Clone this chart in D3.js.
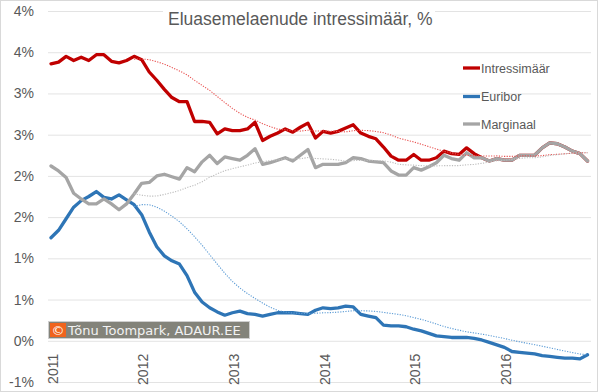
<!DOCTYPE html>
<html>
<head>
<meta charset="utf-8">
<script src="https://cdn.jsdelivr.net/npm/d3@7"></script>
<style>
  html, body { margin: 0; padding: 0; background: #fff; }
  svg { display: block; font-family: "Liberation Sans", Arial, sans-serif; }
</style>
</head>
<body>
<div id="chart"></div>
<script>
// monthly data, Jan 2011 .. Dec 2016
const years = ['2011', '2012', '2013', '2014', '2015', '2016'];

const intressimaar = [
  3.36, 3.38, 3.45, 3.40, 3.44, 3.40, 3.47, 3.47, 3.39, 3.37, 3.40, 3.45,
  3.41, 3.26, 3.16, 3.05, 2.95, 2.90, 2.90, 2.66, 2.66, 2.65, 2.51, 2.57,
  2.55, 2.55, 2.57, 2.65, 2.43, 2.48, 2.52, 2.57, 2.53, 2.59, 2.64, 2.46,
  2.54, 2.52, 2.54, 2.58, 2.62, 2.52, 2.48, 2.45, 2.35, 2.24, 2.19, 2.19,
  2.26, 2.19, 2.19, 2.22, 2.30, 2.27, 2.26, 2.34, 2.27, 2.22, 2.18, 2.21,
  2.19, 2.19, 2.25, 2.25, 2.25, 2.34, 2.40, 2.39, 2.35, 2.30, 2.27, 2.18
];
const euribor = [
  1.25, 1.34, 1.48, 1.62, 1.70, 1.75, 1.81, 1.74, 1.72, 1.77, 1.71, 1.65,
  1.53, 1.32, 1.14, 1.03, 0.97, 0.93, 0.79, 0.59, 0.47, 0.40, 0.35, 0.31,
  0.34, 0.36, 0.33, 0.32, 0.30, 0.32, 0.34, 0.34, 0.34, 0.33, 0.32, 0.37,
  0.40, 0.39, 0.40, 0.42, 0.41, 0.32, 0.30, 0.28, 0.19, 0.18, 0.18, 0.17,
  0.14, 0.12, 0.09, 0.06, 0.05, 0.04, 0.04, 0.04, 0.03, 0.01, -0.02, -0.05,
  -0.08, -0.13, -0.14, -0.15, -0.16, -0.18, -0.19, -0.20, -0.21, -0.21, -0.22, -0.17
];
const marginaal = [
  2.12, 2.06, 1.98, 1.79, 1.72, 1.66, 1.66, 1.72, 1.66, 1.59, 1.66, 1.78,
  1.91, 1.92, 2.00, 2.02, 1.99, 1.96, 2.10, 2.05, 2.17, 2.25, 2.15, 2.23,
  2.21, 2.19, 2.25, 2.33, 2.14, 2.16, 2.19, 2.22, 2.18, 2.25, 2.32, 2.10,
  2.14, 2.14, 2.14, 2.16, 2.22, 2.21, 2.18, 2.17, 2.16, 2.06, 2.01, 2.01,
  2.10, 2.07, 2.11, 2.16, 2.25, 2.21, 2.19, 2.28, 2.22, 2.22, 2.18, 2.21,
  2.19, 2.19, 2.25, 2.25, 2.25, 2.34, 2.40, 2.39, 2.35, 2.30, 2.27, 2.18
];

const yTicks = [-0.5, 0, 0.5, 1, 1.5, 2, 2.5, 3, 3.5, 4];
const yTickLabels = ['-1%', '0%', '1%', '1%', '2%', '2%', '3%', '3%', '4%', '4%'];

const series = [
  {name: 'Intressimäär', values: intressimaar, color: '#C00000', trend: '#E8504F'},
  {name: 'Euribor', values: euribor, color: '#2E75B6', trend: '#5B9BD5'},
  {name: 'Marginaal', values: marginaal, color: '#A5A5A5', trend: '#BDBDBD'}
];

const W = 600, H = 392;
const svg = d3.select('#chart').append('svg').attr('width', W).attr('height', H);

// chart border
svg.append('rect').attr('x', 0.5).attr('y', 0.5).attr('width', 597).attr('height', 391)
  .attr('fill', '#fff').attr('stroke', '#D9D9D9');

const x = d3.scaleLinear().domain([0, 71]).range([51, 587.5]);
const y = d3.scaleLinear().domain([-0.5, 4]).range([382, 11]);
const gridL = 48, gridR = 591;

// y axis + gridlines
const yAxis = svg.append('g').attr('transform', `translate(${gridL},0)`)
  .call(d3.axisLeft(y).tickValues(yTicks).tickSize(-(gridR - gridL)).tickPadding(14)
    .tickFormat((d, i) => yTickLabels[i]));
yAxis.select('.domain').remove();
yAxis.selectAll('line').attr('stroke', '#E3E3E3').attr('stroke-width', 1);
yAxis.selectAll('text').attr('fill', '#595959').attr('font-size', 14)
  .attr('font-family', '"Liberation Sans", Arial, sans-serif');

// x axis labels (rotated years)
const xAxis = svg.append('g').attr('transform', `translate(0,${y(0)})`)
  .call(d3.axisBottom(x).tickValues(years.map((d, i) => i * 12)).tickSize(0)
    .tickFormat((d, i) => years[i]));
xAxis.select('.domain').remove();
xAxis.selectAll('text')
  .attr('transform', 'translate(1,13) rotate(-90)')
  .attr('x', 0).attr('y', 0).attr('dy', '0.36em')
  .attr('text-anchor', 'end')
  .attr('fill', '#595959').attr('font-size', 14)
  .attr('font-family', '"Liberation Sans", Arial, sans-serif');

// title with white box over top gridline
svg.append('rect').attr('x', 163).attr('y', 2).attr('width', 272).attr('height', 30).attr('fill', '#fff');
svg.append('text').attr('x', 168).attr('y', 25).attr('font-size', 17.5).attr('fill', '#595959')
  .text('Eluasemelaenude intressimäär, %');

const line = d3.line().x((d, i) => x(i)).y(d => y(d)).curve(d3.curveLinear);

// main series
svg.append('g').selectAll('path').data(series).join('path')
  .attr('d', d => line(d.values))
  .attr('fill', 'none').attr('stroke', d => d.color).attr('stroke-width', 3.3)
  .attr('stroke-linejoin', 'round').attr('stroke-linecap', 'round');

// 12 month moving average trendlines, dotted
const ma = vals => vals.map((v, i) => i < 11 ? null : d3.mean(vals.slice(i - 11, i + 1)));
const maLine = d3.line().defined(d => d != null).x((d, i) => x(i)).y(d => y(d)).curve(d3.curveLinear);
svg.append('g').selectAll('path').data(series).join('path')
  .attr('d', d => maLine(ma(d.values)))
  .attr('fill', 'none').attr('stroke', d => d.trend).attr('stroke-width', 1.1)
  .attr('stroke-dasharray', '1.2,1.4');

// legend
const leg = svg.append('g').selectAll('g').data(series).join('g')
  .attr('transform', (d, i) => `translate(463,${[68, 96.5, 124][i]})`);
leg.append('line').attr('x1', 0).attr('x2', 17).attr('stroke', d => d.color).attr('stroke-width', 3.3);
leg.append('text').attr('x', 18).attr('y', 4.5).attr('font-size', 12.5).attr('fill', '#595959')
  .text(d => d.name);

// watermark
const wm = svg.append('g').attr('transform', 'translate(48,321)');
wm.append('rect').attr('x', 0.5).attr('y', 0.5).attr('width', 201).attr('height', 17)
  .attr('fill', '#83837A').attr('stroke', '#CFCFCF');
wm.append('rect').attr('x', 2).attr('y', 2).attr('width', 16).attr('height', 14).attr('fill', '#F0641E');
wm.append('text').attr('x', 10).attr('y', 13.5).attr('text-anchor', 'middle')
  .attr('font-family', '"DejaVu Sans", sans-serif').attr('font-size', 13).attr('fill', '#fff').text('©');
wm.append('text').attr('x', 20).attr('y', 14).attr('font-family', '"DejaVu Sans", sans-serif')
  .attr('font-size', 13).attr('fill', '#F2F2F2').text('Tõnu Toompark, ADAUR.EE');
</script>
</body>
</html>
